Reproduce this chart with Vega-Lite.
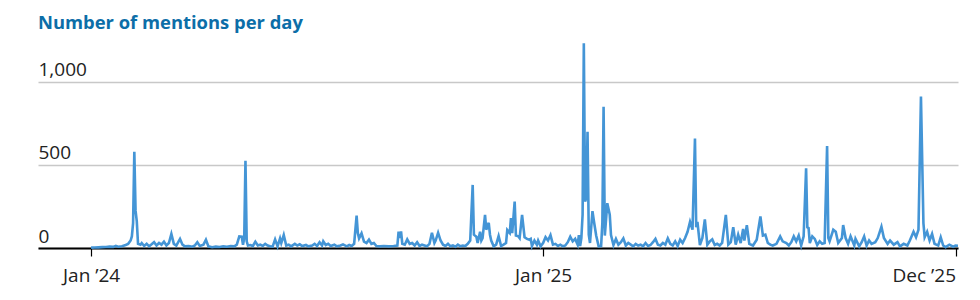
{
"$schema": "https://vega.github.io/schema/vega-lite/v6.json",
"width": 920, "height": 208,
"autosize": {"type": "none"},
"padding": {"left": 38, "top": 40, "right": 22, "bottom": 52},
"background": "white",
"config": {"view": {"stroke": null}, "font": "Open Sans"},
"title": {"text": "Number of mentions per day", "anchor": "start", "frame": "group", "font": "Open Sans", "fontSize": 18.4, "fontWeight": "bold", "color": "#0c6ea8", "offset": 12, "dy": 21, "baseline": "alphabetic"},
"data": {"values": [
{"d":"2024-01-01","v":2},{"d":"2024-01-04","v":3},{"d":"2024-01-07","v":4},{"d":"2024-01-10","v":5},{"d":"2024-01-13","v":6},{"d":"2024-01-16","v":8},{"d":"2024-01-19","v":7},{"d":"2024-01-21","v":13},{"d":"2024-01-23","v":8},{"d":"2024-01-26","v":10},{"d":"2024-01-29","v":18},{"d":"2024-01-31","v":25},
{"d":"2024-02-02","v":45},{"d":"2024-02-03","v":70},{"d":"2024-02-04","v":150},{"d":"2024-02-05","v":580},{"d":"2024-02-06","v":225},{"d":"2024-02-07","v":160},{"d":"2024-02-08","v":25},{"d":"2024-02-10","v":20},{"d":"2024-02-11","v":30},{"d":"2024-02-13","v":12},{"d":"2024-02-15","v":25},{"d":"2024-02-17","v":10},{"d":"2024-02-19","v":22},{"d":"2024-02-21","v":35},{"d":"2024-02-23","v":15},{"d":"2024-02-25","v":30},{"d":"2024-02-27","v":20},{"d":"2024-02-29","v":38},
{"d":"2024-03-02","v":15},{"d":"2024-03-04","v":30},{"d":"2024-03-06","v":85},{"d":"2024-03-08","v":25},{"d":"2024-03-10","v":15},{"d":"2024-03-13","v":55},{"d":"2024-03-15","v":20},{"d":"2024-03-17","v":10},{"d":"2024-03-20","v":12},{"d":"2024-03-23","v":8},{"d":"2024-03-25","v":15},{"d":"2024-03-27","v":35},{"d":"2024-03-29","v":12},
{"d":"2024-04-01","v":20},{"d":"2024-04-03","v":50},{"d":"2024-04-05","v":10},{"d":"2024-04-08","v":5},{"d":"2024-04-11","v":8},{"d":"2024-04-14","v":6},{"d":"2024-04-17","v":10},{"d":"2024-04-20","v":8},{"d":"2024-04-23","v":12},{"d":"2024-04-26","v":10},{"d":"2024-04-28","v":20},{"d":"2024-04-30","v":70},
{"d":"2024-05-02","v":68},{"d":"2024-05-03","v":20},{"d":"2024-05-04","v":60},{"d":"2024-05-05","v":526},{"d":"2024-05-06","v":40},{"d":"2024-05-07","v":15},{"d":"2024-05-09","v":18},{"d":"2024-05-11","v":12},{"d":"2024-05-13","v":38},{"d":"2024-05-15","v":15},{"d":"2024-05-17","v":20},{"d":"2024-05-19","v":12},{"d":"2024-05-21","v":25},{"d":"2024-05-23","v":15},{"d":"2024-05-25","v":10},{"d":"2024-05-27","v":8},{"d":"2024-05-29","v":52},{"d":"2024-05-31","v":10},
{"d":"2024-06-02","v":58},{"d":"2024-06-03","v":30},{"d":"2024-06-05","v":78},{"d":"2024-06-07","v":15},{"d":"2024-06-09","v":20},{"d":"2024-06-11","v":10},{"d":"2024-06-14","v":25},{"d":"2024-06-16","v":15},{"d":"2024-06-18","v":22},{"d":"2024-06-20","v":12},{"d":"2024-06-23","v":18},{"d":"2024-06-25","v":10},{"d":"2024-06-28","v":15},{"d":"2024-06-30","v":25},
{"d":"2024-07-02","v":12},{"d":"2024-07-04","v":35},{"d":"2024-07-06","v":15},{"d":"2024-07-07","v":40},{"d":"2024-07-09","v":18},{"d":"2024-07-11","v":25},{"d":"2024-07-13","v":12},{"d":"2024-07-16","v":20},{"d":"2024-07-18","v":10},{"d":"2024-07-21","v":15},{"d":"2024-07-23","v":22},{"d":"2024-07-26","v":10},{"d":"2024-07-28","v":18},{"d":"2024-07-30","v":12},
{"d":"2024-08-01","v":25},{"d":"2024-08-03","v":195},{"d":"2024-08-04","v":90},{"d":"2024-08-05","v":58},{"d":"2024-08-07","v":88},{"d":"2024-08-09","v":38},{"d":"2024-08-11","v":30},{"d":"2024-08-13","v":50},{"d":"2024-08-15","v":25},{"d":"2024-08-17","v":30},{"d":"2024-08-19","v":12},{"d":"2024-08-22","v":10},{"d":"2024-08-25","v":12},{"d":"2024-08-29","v":10},
{"d":"2024-09-02","v":12},{"d":"2024-09-05","v":15},{"d":"2024-09-06","v":98},{"d":"2024-09-07","v":60},{"d":"2024-09-08","v":100},{"d":"2024-09-09","v":25},{"d":"2024-09-11","v":20},{"d":"2024-09-13","v":52},{"d":"2024-09-15","v":25},{"d":"2024-09-17","v":30},{"d":"2024-09-19","v":15},{"d":"2024-09-21","v":35},{"d":"2024-09-23","v":12},{"d":"2024-09-25","v":20},{"d":"2024-09-27","v":15},{"d":"2024-09-29","v":10},
{"d":"2024-10-01","v":25},{"d":"2024-10-03","v":92},{"d":"2024-10-05","v":30},{"d":"2024-10-06","v":45},{"d":"2024-10-08","v":92},{"d":"2024-10-10","v":45},{"d":"2024-10-12","v":20},{"d":"2024-10-14","v":12},{"d":"2024-10-16","v":25},{"d":"2024-10-18","v":10},{"d":"2024-10-20","v":15},{"d":"2024-10-22","v":8},{"d":"2024-10-24","v":20},{"d":"2024-10-26","v":10},{"d":"2024-10-28","v":15},{"d":"2024-10-30","v":12},
{"d":"2024-11-01","v":25},{"d":"2024-11-03","v":45},{"d":"2024-11-05","v":380},{"d":"2024-11-06","v":80},{"d":"2024-11-08","v":68},{"d":"2024-11-09","v":30},{"d":"2024-11-11","v":98},{"d":"2024-11-12","v":45},{"d":"2024-11-13","v":60},{"d":"2024-11-15","v":200},{"d":"2024-11-16","v":110},{"d":"2024-11-18","v":152},{"d":"2024-11-19","v":80},{"d":"2024-11-20","v":45},{"d":"2024-11-22","v":10},{"d":"2024-11-24","v":20},{"d":"2024-11-26","v":72},{"d":"2024-11-28","v":12},{"d":"2024-11-30","v":20},
{"d":"2024-12-02","v":30},{"d":"2024-12-03","v":108},{"d":"2024-12-05","v":90},{"d":"2024-12-06","v":180},{"d":"2024-12-07","v":90},{"d":"2024-12-09","v":280},{"d":"2024-12-10","v":75},{"d":"2024-12-12","v":70},{"d":"2024-12-13","v":60},{"d":"2024-12-15","v":200},{"d":"2024-12-17","v":65},{"d":"2024-12-19","v":55},{"d":"2024-12-21","v":50},{"d":"2024-12-22","v":55},{"d":"2024-12-23","v":12},{"d":"2024-12-25","v":45},{"d":"2024-12-27","v":20},{"d":"2024-12-28","v":45},{"d":"2024-12-30","v":10},
{"d":"2025-01-01","v":30},{"d":"2025-01-03","v":65},{"d":"2025-01-05","v":45},{"d":"2025-01-07","v":78},{"d":"2025-01-09","v":20},{"d":"2025-01-11","v":25},{"d":"2025-01-13","v":12},{"d":"2025-01-15","v":20},{"d":"2025-01-17","v":10},{"d":"2025-01-19","v":15},{"d":"2025-01-21","v":35},{"d":"2025-01-23","v":68},{"d":"2025-01-25","v":40},{"d":"2025-01-27","v":55},{"d":"2025-01-29","v":20},{"d":"2025-01-30","v":78},{"d":"2025-01-31","v":12},
{"d":"2025-02-01","v":60},{"d":"2025-02-02","v":200},{"d":"2025-02-03","v":1233},{"d":"2025-02-04","v":280},{"d":"2025-02-05","v":300},{"d":"2025-02-06","v":700},{"d":"2025-02-07","v":80},{"d":"2025-02-08","v":30},{"d":"2025-02-10","v":222},{"d":"2025-02-11","v":170},{"d":"2025-02-13","v":75},{"d":"2025-02-15","v":10},{"d":"2025-02-17","v":12},{"d":"2025-02-18","v":150},{"d":"2025-02-19","v":851},{"d":"2025-02-20","v":75},{"d":"2025-02-22","v":270},{"d":"2025-02-24","v":200},{"d":"2025-02-25","v":78},{"d":"2025-02-27","v":18},
{"d":"2025-03-01","v":55},{"d":"2025-03-03","v":20},{"d":"2025-03-05","v":35},{"d":"2025-03-07","v":58},{"d":"2025-03-09","v":15},{"d":"2025-03-11","v":30},{"d":"2025-03-13","v":20},{"d":"2025-03-15","v":10},{"d":"2025-03-17","v":25},{"d":"2025-03-19","v":15},{"d":"2025-03-21","v":20},{"d":"2025-03-23","v":10},{"d":"2025-03-25","v":30},{"d":"2025-03-27","v":12},{"d":"2025-03-29","v":18},{"d":"2025-03-31","v":35},
{"d":"2025-04-02","v":55},{"d":"2025-04-04","v":20},{"d":"2025-04-06","v":15},{"d":"2025-04-08","v":30},{"d":"2025-04-10","v":20},{"d":"2025-04-12","v":58},{"d":"2025-04-14","v":25},{"d":"2025-04-16","v":15},{"d":"2025-04-18","v":40},{"d":"2025-04-20","v":12},{"d":"2025-04-22","v":50},{"d":"2025-04-24","v":30},{"d":"2025-04-26","v":60},{"d":"2025-04-28","v":98},{"d":"2025-04-30","v":158},
{"d":"2025-05-02","v":110},{"d":"2025-05-04","v":660},{"d":"2025-05-05","v":125},{"d":"2025-05-06","v":158},{"d":"2025-05-08","v":18},{"d":"2025-05-10","v":60},{"d":"2025-05-12","v":172},{"d":"2025-05-14","v":20},{"d":"2025-05-16","v":40},{"d":"2025-05-18","v":52},{"d":"2025-05-20","v":18},{"d":"2025-05-22","v":25},{"d":"2025-05-24","v":15},{"d":"2025-05-26","v":30},{"d":"2025-05-29","v":200},{"d":"2025-05-31","v":20},
{"d":"2025-06-02","v":35},{"d":"2025-06-04","v":125},{"d":"2025-06-06","v":20},{"d":"2025-06-08","v":80},{"d":"2025-06-10","v":30},{"d":"2025-06-12","v":115},{"d":"2025-06-13","v":45},{"d":"2025-06-15","v":138},{"d":"2025-06-17","v":25},{"d":"2025-06-20","v":15},{"d":"2025-06-23","v":50},{"d":"2025-06-26","v":190},{"d":"2025-06-28","v":75},{"d":"2025-06-30","v":80},
{"d":"2025-07-02","v":30},{"d":"2025-07-04","v":20},{"d":"2025-07-06","v":15},{"d":"2025-07-09","v":25},{"d":"2025-07-12","v":70},{"d":"2025-07-14","v":40},{"d":"2025-07-17","v":30},{"d":"2025-07-19","v":15},{"d":"2025-07-21","v":35},{"d":"2025-07-23","v":70},{"d":"2025-07-25","v":40},{"d":"2025-07-27","v":75},{"d":"2025-07-29","v":15},{"d":"2025-07-31","v":70},
{"d":"2025-08-02","v":480},{"d":"2025-08-03","v":125},{"d":"2025-08-04","v":120},{"d":"2025-08-05","v":30},{"d":"2025-08-07","v":70},{"d":"2025-08-09","v":55},{"d":"2025-08-11","v":18},{"d":"2025-08-13","v":40},{"d":"2025-08-15","v":25},{"d":"2025-08-17","v":30},{"d":"2025-08-19","v":614},{"d":"2025-08-20","v":60},{"d":"2025-08-21","v":40},{"d":"2025-08-24","v":110},{"d":"2025-08-26","v":98},{"d":"2025-08-28","v":30},{"d":"2025-08-31","v":60},
{"d":"2025-09-01","v":138},{"d":"2025-09-03","v":60},{"d":"2025-09-05","v":25},{"d":"2025-09-07","v":70},{"d":"2025-09-10","v":15},{"d":"2025-09-11","v":55},{"d":"2025-09-14","v":10},{"d":"2025-09-16","v":35},{"d":"2025-09-18","v":70},{"d":"2025-09-20","v":15},{"d":"2025-09-22","v":45},{"d":"2025-09-24","v":25},{"d":"2025-09-27","v":35},{"d":"2025-09-29","v":60},
{"d":"2025-10-02","v":128},{"d":"2025-10-04","v":60},{"d":"2025-10-07","v":25},{"d":"2025-10-09","v":45},{"d":"2025-10-12","v":20},{"d":"2025-10-15","v":35},{"d":"2025-10-17","v":10},{"d":"2025-10-20","v":25},{"d":"2025-10-23","v":15},{"d":"2025-10-25","v":45},{"d":"2025-10-28","v":98},{"d":"2025-10-30","v":65},
{"d":"2025-11-01","v":110},{"d":"2025-11-03","v":912},{"d":"2025-11-05","v":150},{"d":"2025-11-06","v":65},{"d":"2025-11-08","v":98},{"d":"2025-11-10","v":45},{"d":"2025-11-12","v":85},{"d":"2025-11-14","v":25},{"d":"2025-11-17","v":15},{"d":"2025-11-19","v":65},{"d":"2025-11-21","v":15},{"d":"2025-11-23","v":5},{"d":"2025-11-26","v":20},{"d":"2025-11-29","v":8},
{"d":"2025-12-01","v":15},{"d":"2025-12-03","v":14}
]},
"mark": {"type": "line", "color": "#4495d6", "strokeWidth": 2.6, "interpolate": "linear"},
"encoding": {
  "x": {"field": "d", "type": "temporal", "timeUnit": "utcyearmonthdate",
    "scale": {"domain": [{"year": 2023, "month": 11, "date": 19, "utc": true}, {"year": 2025, "month": 12, "date": 3, "utc": true}]},
    "axis": {"values": [{"year": 2024, "month": 1, "date": 1, "utc": true}, {"year": 2025, "month": 1, "date": 1, "utc": true}, {"year": 2025, "month": 12, "date": 1, "utc": true}],
      "format": "%b ’%y", "title": null, "grid": false, "domain": true, "domainColor": "#000000", "domainWidth": 2, "ticks": true, "tickColor": "#000000", "tickSize": 8, "tickWidth": 1.2,
      "labelFont": "Open Sans", "labelFontSize": 19, "labelColor": "#222222", "labelPadding": 10, "labelFlush": 10, "labelOverlap": false}},
  "y": {"field": "v", "type": "quantitative", "scale": {"domain": [0, 1253], "nice": false},
    "axis": {"values": [0, 500, 1000], "format": ",d", "title": null, "domain": false, "ticks": false, "tickSize": 0, "grid": true, "gridColor": "#c8c8c8", "gridWidth": 1.5,
      "labelAlign": "left", "labelBaseline": "alphabetic", "labelPadding": 0, "labelOffset": -6, "labelFont": "Open Sans", "labelFontSize": 19, "labelColor": "#222222"}}
}
}
